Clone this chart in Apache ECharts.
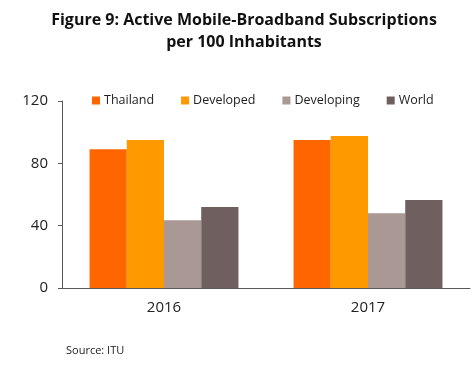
<!DOCTYPE html>
<html><head><meta charset="utf-8">
<script src="https://cdn.jsdelivr.net/npm/echarts@6/dist/echarts.min.js"></script>
<style>html,body{margin:0;padding:0;background:#fff}#c{width:474px;height:370px}</style>
</head><body><div id="c"></div>
<script>
const categories = ['2016', '2017'];
const seriesNames = ['Thailand', 'Developed', 'Developing', 'World'];
const thailand = [89, 95];
const developed = [95, 97.5];
const developing = [43.5, 48];
const world = [52, 56.5];
const yTicks = [0, 40, 80, 120];

const colors = ['#FF6600', '#FF9900', '#A99893', '#6F605F'];
const values = [thailand, developed, developing, world];
const font = 'Open Sans';

const chart = echarts.init(document.getElementById('c'));
chart.setOption({
  animation: false,
  color: colors,
  title: {
    text: 'Figure 9: Active Mobile-Broadband Subscriptions\nper 100 Inhabitants',
    left: 239, top: 4, textAlign: 'center',
    textStyle: { fontFamily: font, fontWeight: 'bold', fontSize: 16, lineHeight: 22, color: '#111' }
  },
  legend: {
    top: 89, left: 87,
    itemWidth: 8, itemHeight: 8, itemGap: 27,
    icon: 'rect',
    textStyle: { fontFamily: font, fontSize: 12.5, color: '#222', padding: [0, 0, 0, -1] },
    data: seriesNames
  },
  graphic: [{
    type: 'text', left: 66, top: 345,
    style: { text: 'Source: ITU', font: '11px "Open Sans"', fill: '#222' }
  }],
  grid: { left: 62, right: 4, top: 101, bottom: 82, containLabel: false },
  xAxis: {
    type: 'category', data: categories,
    axisLine: { lineStyle: { color: '#595959', width: 1 } },
    axisTick: { inside: true, length: 5, lineStyle: { color: '#595959' } },
    axisLabel: { fontFamily: font, fontSize: 15, color: '#222', margin: 12 }
  },
  yAxis: {
    type: 'value', min: 0, max: 120, interval: 40,
    axisLine: { show: true, lineStyle: { color: '#595959', width: 1 } },
    axisTick: { show: true, length: 4, lineStyle: { color: '#595959' } },
    splitLine: { show: false },
    axisLabel: { fontFamily: font, fontSize: 15, color: '#222', margin: 14,
      formatter: v => yTicks.includes(v) ? String(v) : '' }
  },
  series: seriesNames.map((n, i) => ({
    name: n, type: 'bar', data: values[i],
    barGap: '0%', barCategoryGap: '27%',
    itemStyle: { color: colors[i] }
  }))
});
</script></body></html>
